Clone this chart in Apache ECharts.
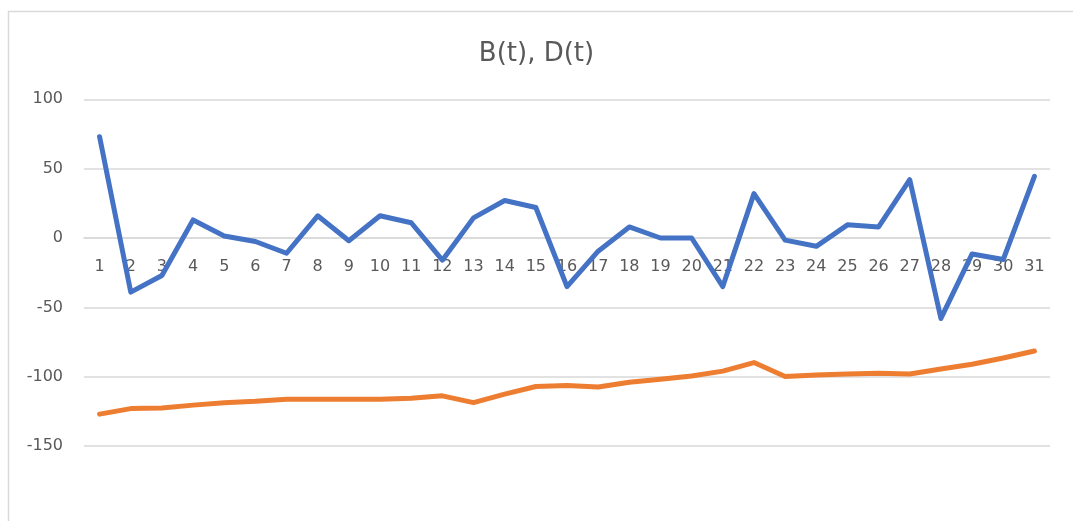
<!DOCTYPE html>
<html>
<head>
<meta charset="utf-8">
<script src="https://cdn.jsdelivr.net/npm/echarts@6/dist/echarts.min.js"></script>
<style>html,body{margin:0;padding:0;background:#fff}#c{width:1073px;height:521px}</style>
</head>
<body>
<div id="c"></div>
<script>
const categories = ['1','2','3','4','5','6','7','8','9','10','11','12','13','14','15','16','17','18','19','20','21','22','23','24','25','26','27','28','29','30','31'];
const seriesB = [73, -39, -27, 13, 1.5, -2.5, -11, 16, -2, 16, 11, -16, 14.5, 27, 22, -35, -9.5, 8, 0, 0, -35, 32, -1.5, -6, 9.5, 8, 42, -58, -11.5, -15.5, 44.5];
const seriesD = [-127, -123, -122.5, -120.5, -118.7, -117.7, -116.2, -116.2, -116.2, -116.2, -115.5, -113.8, -118.7, -112.6, -107.1, -106.4, -107.4, -104, -101.8, -99.5, -96, -89.8, -99.8, -98.8, -98, -97.5, -98, -94.5, -91, -86.5, -81.5];
const yTicks = {min: -200, max: 100, step: 50};

const gridTop = 99.3, gridHeight = 416.1;
// place the category axis at value 0 through the value scale
const zeroOffset = -gridHeight * (0 - yTicks.min) / (yTicks.max - yTicks.min);

const chart = echarts.init(document.getElementById('c'), null, {renderer: 'canvas'});
const font = '"DejaVu Sans", sans-serif';
chart.setOption({
  animation: false,
  backgroundColor: '#fff',
  title: {
    text: 'B(t), D(t)',
    left: 'center',
    top: 36,
    textStyle: {fontFamily: font, fontSize: 26, fontWeight: 'normal', color: '#595959'}
  },
  graphic: [{
    type: 'polyline',
    shape: {points: [[8.5, 530], [8.5, 11.5], [1080, 11.5]]},
    style: {stroke: '#d9d9d9', lineWidth: 1.5, fill: null},
    silent: true
  }],
  grid: {left: 84, right: 23, top: gridTop, height: gridHeight, containLabel: false, outerBoundsMode: 'none'},
  xAxis: {
    type: 'category',
    data: categories,
    boundaryGap: true,
    position: 'bottom',
    offset: zeroOffset,
    axisLine: {onZero: false, lineStyle: {color: '#d9d9d9', width: 1.5}},
    axisTick: {show: false},
    axisLabel: {fontFamily: font, fontSize: 16, color: '#595959', margin: 21, interval: 0}
  },
  yAxis: {
    type: 'value',
    min: yTicks.min, max: yTicks.max, interval: yTicks.step,
    axisLine: {show: false},
    axisTick: {show: false},
    axisLabel: {
      fontFamily: font, fontSize: 16, color: '#595959', margin: 21,
      formatter: v => (v === yTicks.min ? '' : String(v))
    },
    splitLine: {lineStyle: {color: ['rgba(0,0,0,0)', '#d9d9d9', '#d9d9d9', '#d9d9d9', '#d9d9d9', '#d9d9d9', '#d9d9d9'], width: 1.5}}
  },
  series: [
    {name: 'B(t)', type: 'line', data: seriesB, symbol: 'none', z: 3, lineStyle: {color: '#4472C4', width: 5, cap: 'round', join: 'round'}, itemStyle: {color: '#4472C4'}},
    {name: 'D(t)', type: 'line', data: seriesD, symbol: 'none', z: 3, lineStyle: {color: '#ED7D31', width: 5, cap: 'round', join: 'round'}, itemStyle: {color: '#ED7D31'}}
  ]
});
</script>
</body>
</html>
